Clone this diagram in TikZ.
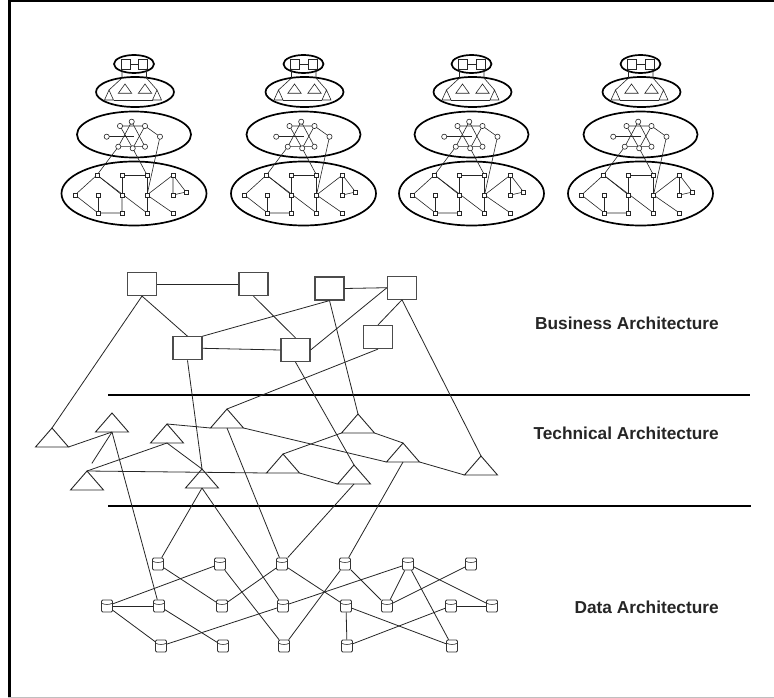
\documentclass[tikz,border=0pt]{standalone}
\usepackage{fontspec}
\setmainfont{Liberation Sans}
\usetikzlibrary{shapes.geometric}
\tikzset{
  conn/.style={line width=0.8pt, draw=black!85},
  bizbox/.style={draw=black!70, line width=1.2pt, fill=white, minimum width=29pt, minimum height=23pt, inner sep=0pt},
  dbnode/.style={rectangle, rounded corners=1.2pt, draw=black!80, line width=0.8pt, fill=white, minimum width=11pt, minimum height=12pt, inner sep=0pt,
    path picture={\draw[line width=0.6pt, black!80] ([yshift=-3pt]path picture bounding box.north west) .. controls +(2.5pt,-2pt) and +(-2.5pt,-2pt) .. ([yshift=-3pt]path picture bounding box.north east);}},
  tristyle/.style={line width=0.9pt, draw=black!85},
  sepline/.style={line width=1.4pt, draw=black},
  lbl/.style={font=\bfseries\fontsize{17.3}{20}\selectfont, anchor=east, inner sep=0pt, text=black!85},
  ring/.style={line width=1.7pt, draw=black, fill=white},
  thinline/.style={line width=0.6pt, draw=black!85},
}
\newcommand\techtri[3]{%
  \path (#2,#3) coordinate (#1a) ++(-16.5,19) coordinate (#1l) ++(16.5,0) coordinate (#1b) ++(16.5,0) coordinate (#1r);
  \draw[tristyle] (#1a) -- (#1l) -- (#1r) -- cycle;}
\newcommand\tinysq[2]{\draw[thinline, fill=white] (#1-1.9,#2-1.9) rectangle (#1+1.9,#2+1.9);}
\newcommand\tinycirc[2]{\draw[thinline, fill=white] (#1,#2) circle[radius=2.6pt];}
\newcommand\stackicon{%
  \draw[ring] (0,193.5) ellipse[x radius=72.5pt, y radius=32pt];
  \draw[ring] (0,134.5) ellipse[x radius=57pt, y radius=23pt];
  \draw[ring] (1,92) ellipse[x radius=39pt, y radius=15pt];
  \draw[ring] (0,64) ellipse[x radius=20pt, y radius=9pt];
  % top level
  \draw[thinline] (-13,59) rectangle (-4,69);
  \draw[thinline] (4.3,59) rectangle (13.3,69);
  \draw[thinline] (-4,64) -- (4.3,64);
  \draw[thinline] (-12,69) -- (-12,78) -- (-25,90);
  \draw[thinline] (12.5,69) -- (12.5,78) -- (23,90);
  % second level
  \draw[thinline] (-9,84) -- (-15.7,93.3) -- (-2.3,93.3) -- cycle;
  \draw[thinline] (11,84) -- (4.3,93.3) -- (17.7,93.3) -- cycle;
  \draw[thinline] (-25,90) -- (-29.5,100) -- (-20.5,100) -- cycle;
  \draw[thinline] (23,90) -- (18.5,100) -- (27.5,100) -- cycle;
  \draw[thinline] (-20.5,100) -- (18.5,100);
  % third level
  \draw[thinline] (-2.3,121.7) -- (-15.7,146.7) -- (11,146.7) -- cycle;
  \draw[thinline] (-14,126) -- (11,126) -- (-1.3,148.3) -- cycle;
  \draw[thinline] (-27.3,136.7) -- (0,136.7);
  \draw[thinline] (11,126) -- (26,136.7);
  \draw[thinline] (-15.7,146.7) -- (-37,175);
  \draw[thinline] (-1.3,148.3) -- (13,175);
  \draw[thinline] (26,136.7) -- (13,195);
  \tinycirc{-2.3}{121.7}\tinycirc{-14}{126}\tinycirc{11}{126}
  \tinycirc{-27.3}{136.7}\tinycirc{26}{136.7}
  \tinycirc{-15.7}{146.7}\tinycirc{-1.3}{148.3}\tinycirc{11}{146.7}
  % bottom level
  \draw[thinline] (-37,175) -- (-59,195) -- (-36,213) -- (-12,213);
  \draw[thinline] (-36,195) -- (-36,213);
  \draw[thinline] (-37,175) -- (-12,195) -- (-12,213);
  \draw[thinline] (-37,175) -- (13,213);
  \draw[thinline] (-12,175) -- (13,175) -- (13,213);
  \draw[thinline] (-12,175) -- (-12,195);
  \draw[thinline] (13,195) -- (39,175) -- (52,192) -- (39,195) -- (39,175);
  \draw[thinline] (13,195) -- (39,213);
  \tinysq{-37}{175}\tinysq{-12}{175}\tinysq{13}{175}\tinysq{39}{175}
  \tinysq{-59}{195}\tinysq{-36}{195}\tinysq{-12}{195}\tinysq{13}{195}\tinysq{39}{195}\tinysq{52}{192}
  \tinysq{-36}{213}\tinysq{-12}{213}\tinysq{13}{213}\tinysq{39}{213}
}
\begin{document}
\begin{tikzpicture}[x=1pt, y=-1pt]
\useasboundingbox (0,0) rectangle (774,698);
\fill[white] (0,0) rectangle (774,698);
% frame
\draw[line width=2.6pt, black] (9.7,0) -- (9.7,698);
\draw[line width=2pt, black] (8.4,1) -- (774,1);
\draw[line width=0.8pt, black!25] (8.4,697.4) -- (774,697.4);

% top stacks
\foreach \cx in {134,303.5,471.5,640.5} {
  \begin{scope}[xshift=\cx pt]
    \stackicon
  \end{scope}
}

% separators
\coordinate (s1l) at (108,395); \coordinate (s1r) at (750,395);
\coordinate (s2l) at (108,506); \coordinate (s2r) at (751,506);
\draw[sepline] (s1l) -- (s1r);
\draw[sepline] (s2l) -- (s2r);

% labels
\node[lbl] (lb) at (719,323) {Business Architecture};
\node[lbl] (lt) at (719,433.5) {Technical Architecture};
\node[lbl] (ld) at (719,607.5) {Data Architecture};

% business boxes
\node[bizbox] (B1) at (142,284) {};
\node[bizbox] (B2) at (253.5,284) {};
\node[bizbox] (B3) at (329.5,288.5) {};
\node[bizbox] (B4) at (402,287.7) {};
\node[bizbox] (B5) at (187.5,348.3) {};
\node[bizbox] (B6) at (295.5,350) {};
\node[bizbox] (B7) at (378,337) {};

% technical triangles
\techtri{T1}{52}{428}
\techtri{T2}{112}{413}
\techtri{T3}{167}{424}
\techtri{T4}{227}{409}
\techtri{T5}{87}{471}
\techtri{T6}{202}{469}
\techtri{T7}{283}{454}
\techtri{T8}{358}{414}
\techtri{T9}{354}{465}
\techtri{T10}{403}{443}
\techtri{T11}{481}{456}

% data nodes
\node[dbnode] (a1) at (158,564) {};
\node[dbnode] (a2) at (220,564) {};
\node[dbnode] (a3) at (282,564) {};
\node[dbnode] (a4) at (345,564) {};
\node[dbnode] (a5) at (408,564) {};
\node[dbnode] (a6) at (471,564) {};
\node[dbnode] (b1) at (107,606) {};
\node[dbnode] (b2) at (159,606) {};
\node[dbnode] (b3) at (222,606) {};
\node[dbnode] (b4) at (283,606) {};
\node[dbnode] (b5) at (346,606) {};
\node[dbnode] (b6) at (387,606) {};
\node[dbnode] (b7) at (451,606) {};
\node[dbnode] (b8) at (492,606) {};
\node[dbnode] (c1) at (161,646) {};
\node[dbnode] (c2) at (223,646) {};
\node[dbnode] (c3) at (284,646) {};
\node[dbnode] (c4) at (347,646) {};
\node[dbnode] (c5) at (452,646) {};

% business connectors
\draw[conn] (B1.east) -- (B2.west);
\draw[conn] (B3.east) -- (B4.west);
\draw[conn] (B5.east) -- (B6.west);
\draw[conn] (B1.south) -- (B5.north);
\draw[conn] (B1.south) -- (T1a);
\draw[conn] (B2.south) -- (B6.north);
\draw[conn] (B5.north east) -- (B3.south);
\draw[conn] (B6.east) -- (B4.west);
\draw[conn] (B4.south) -- (B7.north);
\draw[conn] (B4.south) -- (T11a);
\draw[conn] (B3.south) -- (T8a);
\draw[conn] (B5.south) -- (T6a);
\draw[conn] (B6.south) -- (T9a);
\draw[conn] (B7.south) -- (T4a);

% technical connectors
\draw[conn] (T1r) -- (T2b);
\draw[conn, shorten >=9pt] (T2b) -- (T5a);
\draw[conn] (T3a) -- (T4l);
\draw[conn] (T4r) -- (T10l);
\draw[conn] (T5a) -- (T3b);
\draw[conn] (T3b) -- (T6a);
\draw[conn] (T5a) -- (T7l);
\draw[conn] (T7a) -- (T8l);
\draw[conn] (T7r) -- (T9l);
\draw[conn] (T8r) -- (T10a);
\draw[conn] (T10r) -- (T11l);

% technical to data
\draw[conn] (T2b) -- (b2);
\draw[conn] (T6b) -- (a1);
\draw[conn] (T6b) -- (b4);
\draw[conn] (T4b) -- (a3);
\draw[conn] (T9b) -- (a3);
\draw[conn] (T10b) -- (a4);

% data connectors
\draw[conn] (a1) -- (b3);
\draw[conn] (a2) -- (b1);
\draw[conn] (a2) -- (c3);
\draw[conn] (a3) -- (b3);
\draw[conn] (a3) -- (b5);
\draw[conn] (a4) -- (c3);
\draw[conn] (a4) -- (b6);
\draw[conn] (a5) -- (b6);
\draw[conn] (a5) -- (c5);
\draw[conn] (a5) -- (b8);
\draw[conn] (a5) -- (b4);
\draw[conn] (a6) -- (b6);
\draw[conn] (b1) -- (b2);
\draw[conn] (b1) -- (c1);
\draw[conn] (b2) -- (c2);
\draw[conn] (c1) -- (b4);
\draw[conn] (b5) -- (c4);
\draw[conn] (b5) -- (c5);
\draw[conn] (c4) -- (b7);
\draw[conn] (b7) -- (b8);
\end{tikzpicture}
\end{document}
